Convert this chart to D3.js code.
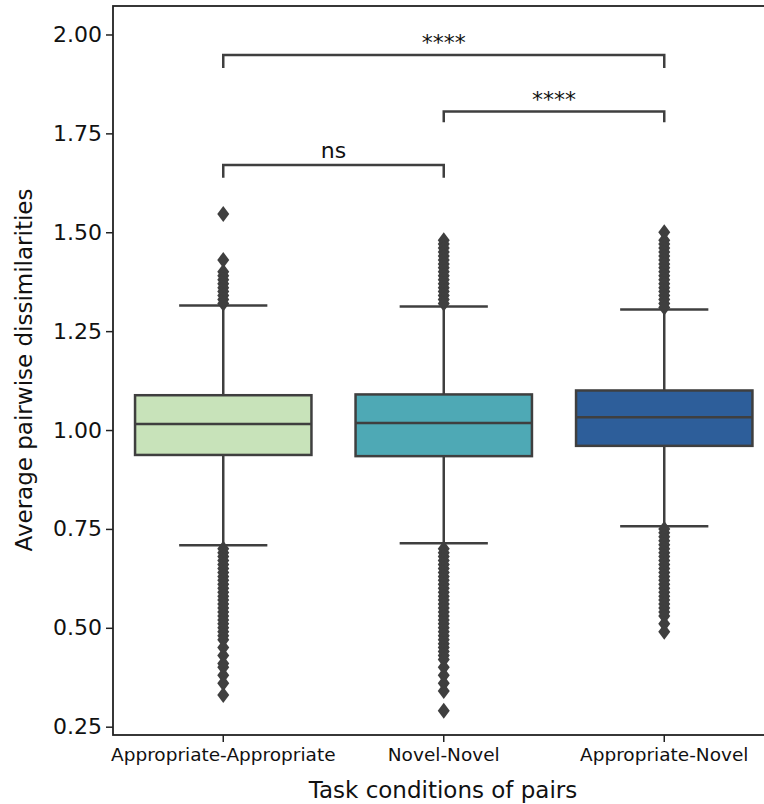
<!DOCTYPE html>
<html>
<head>
<meta charset="utf-8">
<script src="https://cdn.jsdelivr.net/npm/d3@7"></script>
<style>
  body { margin: 0; background: #fff; }
  svg { display: block; font-family: "DejaVu Sans", sans-serif; }
</style>
</head>
<body>
<svg id="chart" width="764" height="804"></svg>
<script>
// categories and box stats
const categories = ["Appropriate-Appropriate", "Novel-Novel", "Appropriate-Novel"]
const colors = ["#c8e3ba", "#4ea9b5", "#2d5e9a"]

const q1 = [0.937, 0.934, 0.960]
const median = [1.015, 1.018, 1.032]
const q3 = [1.088, 1.090, 1.100]
const whiskerLow = [0.709, 0.714, 0.757]
const whiskerHigh = [1.315, 1.312, 1.305]

// outliers (fliers) per category
const fliersAA = [1.546, 1.43, 1.40, 1.39, 1.38, 1.37, 1.36, 1.35, 1.34, 1.33, 1.32,
    0.70, 0.69, 0.68, 0.67, 0.66, 0.65, 0.64, 0.63, 0.62, 0.61, 0.60, 0.59, 0.58,
    0.57, 0.56, 0.55, 0.54, 0.53, 0.52, 0.51, 0.50, 0.49, 0.48, 0.47,
    0.45, 0.43, 0.41, 0.40, 0.38, 0.36, 0.33]
const fliersNN = [1.48, 1.47, 1.46, 1.45, 1.44, 1.43, 1.42, 1.41, 1.40, 1.39, 1.38,
    1.37, 1.36, 1.35, 1.34, 1.33, 1.32,
    0.70, 0.69, 0.68, 0.67, 0.66, 0.65, 0.64, 0.63, 0.62, 0.61, 0.60, 0.59, 0.58,
    0.57, 0.56, 0.55, 0.54, 0.53, 0.52, 0.51, 0.50, 0.49, 0.48, 0.47, 0.46, 0.45,
    0.44, 0.43, 0.42, 0.40, 0.38, 0.36, 0.34, 0.29]
const fliersAN = [1.50, 1.48, 1.47, 1.46, 1.45, 1.44, 1.43, 1.42, 1.41, 1.40, 1.39,
    1.38, 1.37, 1.36, 1.35, 1.34, 1.33, 1.32, 1.31,
    0.75, 0.74, 0.73, 0.72, 0.71, 0.70, 0.69, 0.68, 0.67, 0.66, 0.65, 0.64, 0.63,
    0.62, 0.61, 0.60, 0.59, 0.58, 0.57, 0.56, 0.55, 0.54, 0.53, 0.51, 0.49]
const fliers = [fliersAA, fliersNN, fliersAN]

const yTicks = [0.25, 0.50, 0.75, 1.00, 1.25, 1.50, 1.75, 2.00]

// significance brackets
const pairsFrom = [0, 1, 0]
const pairsTo = [1, 2, 2]
const pairLabels = ["ns", "****", "****"]
const pairLevels = [1.670, 1.805, 1.948]
const pairDrops = [1.638, 1.778, 1.915]

const svg = d3.select("#chart")
const ink = "#3f3f3f"

const x = d3.scaleBand()
    .domain(categories)
    .range([113, 774.5])
    .padding(0)

const y = d3.scaleLinear()
    .domain([0.229, 2.072])
    .range([735, 6])

const bw = x.bandwidth() * 0.8

// boxes
const g = svg.append("g")
categories.forEach((c, i) => {
    const cx = x(c) + x.bandwidth() / 2
    // whiskers
    g.append("line").attr("x1", cx).attr("x2", cx)
        .attr("y1", y(q3[i])).attr("y2", y(whiskerHigh[i]))
        .attr("stroke", ink).attr("stroke-width", 2.5)
    g.append("line").attr("x1", cx).attr("x2", cx)
        .attr("y1", y(q1[i])).attr("y2", y(whiskerLow[i]))
        .attr("stroke", ink).attr("stroke-width", 2.5)
    // caps
    ;[whiskerHigh[i], whiskerLow[i]].forEach(v => {
        g.append("line").attr("x1", cx - bw / 4).attr("x2", cx + bw / 4)
            .attr("y1", y(v)).attr("y2", y(v))
            .attr("stroke", ink).attr("stroke-width", 2.5)
    })
    // fliers as thin diamonds
    g.append("g").selectAll("path")
        .data(fliers[i])
        .join("path")
        .attr("d", d => {
            const py = y(d)
            return `M${cx},${py - 8}L${cx + 6},${py}L${cx},${py + 8}L${cx - 6},${py}Z`
        })
        .attr("fill", ink)
    // box
    g.append("rect")
        .attr("x", cx - bw / 2)
        .attr("y", y(q3[i]))
        .attr("width", bw)
        .attr("height", y(q1[i]) - y(q3[i]))
        .attr("fill", colors[i])
        .attr("stroke", ink)
        .attr("stroke-width", 2.5)
    g.append("line").attr("x1", cx - bw / 2).attr("x2", cx + bw / 2)
        .attr("y1", y(median[i])).attr("y2", y(median[i]))
        .attr("stroke", ink).attr("stroke-width", 2.5)
})

// brackets
pairLabels.forEach((lab, i) => {
    const xa = x(categories[pairsFrom[i]]) + x.bandwidth() / 2
    const xb = x(categories[pairsTo[i]]) + x.bandwidth() / 2
    svg.append("path")
        .attr("d", `M${xa},${y(pairDrops[i])}L${xa},${y(pairLevels[i])}L${xb},${y(pairLevels[i])}L${xb},${y(pairDrops[i])}`)
        .attr("fill", "none")
        .attr("stroke", ink)
        .attr("stroke-width", 2.5)
    svg.append("text")
        .attr("x", (xa + xb) / 2)
        .attr("y", y(pairLevels[i]) - (lab === "ns" ? 7 : 5))
        .attr("text-anchor", "middle")
        .attr("font-size", "22px")
        .attr("fill", "#111")
        .text(lab)
})

// axes
const yAxis = svg.append("g")
    .attr("transform", "translate(113,0)")
    .call(d3.axisLeft(y).tickValues(yTicks).tickFormat(d3.format(".2f")).tickSize(7).tickPadding(4))
yAxis.select(".domain").remove()
yAxis.selectAll("line").attr("stroke", "#222").attr("stroke-width", 1.5)
yAxis.selectAll("text").attr("font-size", "22px").attr("fill", "#111").attr("font-family", "DejaVu Sans")

const xAxis = svg.append("g")
    .attr("transform", "translate(0,735)")
    .call(d3.axisBottom(x).tickSize(7).tickPadding(6))
xAxis.select(".domain").remove()
xAxis.selectAll("line").attr("stroke", "#222").attr("stroke-width", 1.5)
xAxis.selectAll("text").attr("font-size", "18.5px").attr("fill", "#111").attr("font-family", "DejaVu Sans")

// frame
svg.append("rect")
    .attr("x", 113).attr("y", 6)
    .attr("width", 774.5 - 113).attr("height", 735 - 6)
    .attr("fill", "none")
    .attr("stroke", "#222")
    .attr("stroke-width", 1.8)

// axis labels
svg.append("text")
    .attr("x", 443).attr("y", 798)
    .attr("text-anchor", "middle")
    .attr("font-size", "23px")
    .attr("fill", "#111")
    .text("Task conditions of pairs")

svg.append("text")
    .attr("transform", "translate(32,370) rotate(-90)")
    .attr("text-anchor", "middle")
    .attr("font-size", "23px")
    .attr("fill", "#111")
    .text("Average pairwise dissimilarities")
</script>
</body>
</html>
